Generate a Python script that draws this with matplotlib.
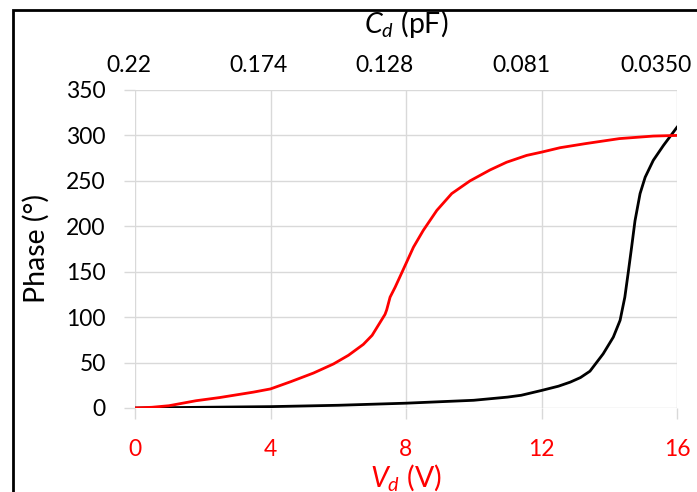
import matplotlib
matplotlib.use('Agg')
import matplotlib.pyplot as plt
from matplotlib.patches import Rectangle

plt.rcParams['font.family'] = ['Lato', 'DejaVu Sans']
plt.rcParams['mathtext.fontset'] = 'custom'
plt.rcParams['mathtext.rm'] = 'Lato'
plt.rcParams['mathtext.it'] = 'Lato:italic'

# red curve: phase vs V_d
vd_red = [0, 0.5, 1, 1.8, 2.5, 3, 3.5, 4, 4.6, 5.27, 5.86, 6.3, 6.74, 7.0, 7.38,
          7.43, 7.53, 7.68, 8.0, 8.22, 8.51, 8.91, 9.35, 9.89, 10.48, 10.97,
          11.56, 12.0, 12.55, 13.3, 14.3, 15.3, 16]
phase_red = [0, 0.8, 2.5, 8, 11.5, 14.5, 17.5, 21, 29, 38.5, 48.5, 58, 70, 80, 103,
             108, 122, 133, 159, 177, 195.5, 217.5, 236, 250, 262, 270.5,
             278, 281.6, 286.5, 291, 296.5, 299.3, 300]

# black curve
vd_blk = [0, 2, 4, 6, 8, 10, 11, 11.4, 12, 12.5, 12.85, 13.15, 13.43, 13.82, 14.12,
          14.32, 14.46, 14.56, 14.66, 14.76, 14.91, 15.06, 15.3, 15.6, 16]
phase_blk = [0, 0.8, 1.5, 3, 5.3, 8.5, 12, 14, 19.3, 24, 28.5, 33.5, 40.5, 59.6, 78,
             96.5, 122, 149, 177, 206, 236, 254, 272.6, 289, 309]

x_ticks = [0, 4, 8, 12, 16]
y_ticks = [0, 50, 100, 150, 200, 250, 300, 350]
# top C_d scale: labels and where they sit along the V_d axis
cd_labels = ['0.22', '0.174', '0.128', '0.081', '0.0350']
cd_pos = [-0.18, 3.66, 7.38, 11.42, 15.38]

fig = plt.figure(figsize=(6.97, 4.92), dpi=100)
ax = fig.add_axes([135/697, 1 - 408/492, 542/697, 318/492])

grid_c = '#d9d9d9'
ax.plot(vd_blk, phase_blk, color='black', lw=2.0, zorder=3)
ax.plot(vd_red, phase_red, color='red', lw=2.0, zorder=4)

ax.set_xlim(0, 16)
ax.set_ylim(0, 350)
ax.set_xticks(x_ticks)
ax.set_yticks(y_ticks)
ax.grid(True, color=grid_c, lw=1.0)
for s in ax.spines.values():
    s.set_visible(False)
ax.tick_params(axis='both', length=8, width=1.0, color=grid_c, labelsize=16.5)
ax.tick_params(axis='x', labelcolor='red', pad=14)
ax.tick_params(axis='y', pad=13)
ax.set_ylabel('Phase (°)', fontsize=20.5)
ax.yaxis.set_label_coords(-0.158, 0.5)
ax.set_xlabel(r'$V_d$ (V)', fontsize=20.5, color='red', labelpad=2)

trans = ax.get_xaxis_transform()
for p, lab in zip(cd_pos, cd_labels):
    ax.text(p, 1.0566, lab, transform=trans, ha='center', va='baseline',
            fontsize=16.5, clip_on=False)
ax.text(8, 1.179, r'$C_d$ (pF)', transform=trans, ha='center', va='baseline',
        fontsize=20.5, clip_on=False)

fig.patches.append(Rectangle((13/697, -0.1), 1.2, 1 - 10/492 + 0.1,
                             transform=fig.transFigure, fill=False,
                             edgecolor='black', lw=2))

fig.savefig('out.png', dpi=100)
